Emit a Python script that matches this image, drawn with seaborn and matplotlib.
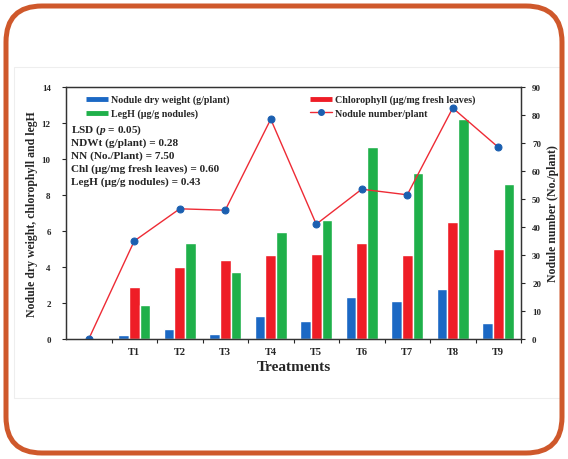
import numpy as np
import pandas as pd
import matplotlib
matplotlib.use("Agg")
import matplotlib.pyplot as plt
from matplotlib.patches import FancyBboxPatch, Rectangle
from matplotlib.lines import Line2D
from matplotlib.ticker import MultipleLocator, FixedLocator
import seaborn as sns

# data
treatments = ["Control", "T1", "T2", "T3", "T4", "T5", "T6", "T7", "T8", "T9"]
tick_labels = ["", "T1", "T2", "T3", "T4", "T5", "T6", "T7", "T8", "T9"]
nodule_dry_weight = [0, 0.2, 0.55, 0.3, 1.3, 1.0, 2.35, 2.1, 2.8, 0.9]
chlorophyll = [0, 2.9, 4.0, 4.4, 4.65, 4.7, 5.35, 4.65, 6.5, 5.0]
legh = [0, 1.9, 5.35, 3.7, 5.95, 6.6, 10.65, 9.25, 12.2, 8.6]
nodule_number = [0, 35, 46.5, 46, 78.5, 41, 53.5, 51.5, 82.5, 68.5]

lsd_lines = ["LSD ($p$ = 0.05)",
             "NDWt (g/plant) = 0.28",
             "NN (No./Plant) = 7.50",
             "Chl (\u00b5g/mg fresh leaves) = 0.60",
             "LegH (\u00b5g/g nodules) = 0.43"]

lab_ndw = "Nodule dry weight (g/plant)"
lab_chl = "Chlorophyll (\u00b5g/mg fresh leaves)"
lab_legh = "LegH (\u00b5g/g nodules)"
lab_nn = "Nodule number/plant"

colors = {lab_ndw: "#1b68c4", lab_chl: "#ee1d26", lab_legh: "#1fb04a"}

df = pd.DataFrame({"Treatment": treatments,
                   lab_ndw: nodule_dry_weight,
                   lab_chl: chlorophyll,
                   lab_legh: legh})
long_df = df.melt(id_vars="Treatment", var_name="Parameter", value_name="Value")

sns.set_style("white")
plt.rcParams["font.family"] = ["Liberation Serif", "DejaVu Serif"]
plt.rcParams["font.weight"] = "bold"
plt.rcParams["mathtext.fontset"] = "custom"
plt.rcParams["mathtext.it"] = "Liberation Serif:italic:bold"
plt.rcParams["mathtext.rm"] = "Liberation Serif:bold"

fig = plt.figure(figsize=(5.68, 4.60), dpi=100)
ax = fig.add_axes([66 / 568, 1 - 340 / 460, 455 / 568, 252 / 460])

sns.barplot(data=long_df, x="Treatment", y="Value", hue="Parameter",
            order=treatments, hue_order=[lab_ndw, lab_chl, lab_legh],
            palette=colors, width=0.7, saturation=1, legend=False, ax=ax)

ax2 = ax.twinx()
sns.lineplot(x=np.arange(len(treatments)), y=nodule_number, ax=ax2,
             color="#ee2b35", linewidth=1.0, marker="o", markersize=5,
             markerfacecolor="#1b5fb0", markeredgecolor="#1b5fb0")

ax.set_xlim(-0.5, len(treatments) - 0.5)
ax.set_ylim(0, 14)
ax2.set_ylim(0, 90)
ax.yaxis.set_major_locator(MultipleLocator(2))
ax2.yaxis.set_major_locator(MultipleLocator(10))

ax.set_xticks(np.arange(len(treatments)))
ax.set_xticklabels(tick_labels, fontsize=7.5, fontweight="bold")
ax.xaxis.set_minor_locator(FixedLocator(np.arange(len(treatments)) + 0.5))
ax.tick_params(axis="x", which="major", length=0, pad=6)
ax.tick_params(axis="x", which="minor", length=3, width=0.8, direction="out", bottom=True)
ax.tick_params(axis="y", length=3, width=0.8, direction="out", left=True, labelsize=6.5, pad=8)
ax2.tick_params(axis="y", length=3, width=0.8, direction="out", right=True, labelsize=6.5, pad=5)
for lbl in ax.get_yticklabels() + ax2.get_yticklabels():
    lbl.set_fontweight("bold")

ax.set_xlabel("Treatments", fontsize=11, fontweight="bold", labelpad=3)
ax.set_ylabel("Nodule dry weight, chlorophyll and legH", fontsize=8.5, fontweight="bold", labelpad=3)
ax2.set_ylabel("Nodule number (No./plant)", fontsize=8.5, fontweight="bold", labelpad=4)

for a in (ax, ax2):
    for s in a.spines.values():
        s.set_color("#333333")
        s.set_linewidth(0.9)

handles = [Line2D([], [], color=colors[lab_ndw], lw=3.5, solid_capstyle="butt"),
           Line2D([], [], color=colors[lab_legh], lw=3.5, solid_capstyle="butt"),
           Line2D([], [], color=colors[lab_chl], lw=3.5, solid_capstyle="butt"),
           Line2D([], [], color="#ee2b35", lw=1.0, marker="o", markersize=4,
                  markerfacecolor="#1b5fb0", markeredgecolor="#1b5fb0")]
labels = [lab_ndw, lab_legh, lab_chl, lab_nn]
ax.legend(handles, labels, ncol=2, loc="upper left", bbox_to_anchor=(0.025, 1.005),
          frameon=False, handlelength=2.2, handletextpad=0.3,
          columnspacing=8.0, labelspacing=0.45,
          prop={"family": "Liberation Serif", "weight": "bold", "size": 7.2})

# LSD annotation, one line every 13 px
for i, line in enumerate(lsd_lines):
    ax.text(0.012, 0.833 - i * 13 / 252, line, transform=ax.transAxes,
            ha="left", va="center", fontsize=8.1, fontweight="bold")

# faint image border and orange rounded frame
fig.patches.append(Rectangle((14 / 100, (460 - 399) / 100), 546 / 100, 331 / 100,
                             transform=fig.dpi_scale_trans, fill=False,
                             edgecolor="#eeeeee", linewidth=0.8))
fig.patches.append(FancyBboxPatch((6 / 100, 6 / 100), 556 / 100, 447 / 100,
                                  boxstyle="round,pad=0,rounding_size=0.36",
                                  transform=fig.dpi_scale_trans, fill=False,
                                  edgecolor="#cf582b", linewidth=3.6))

fig.savefig("out.png", dpi=100)
